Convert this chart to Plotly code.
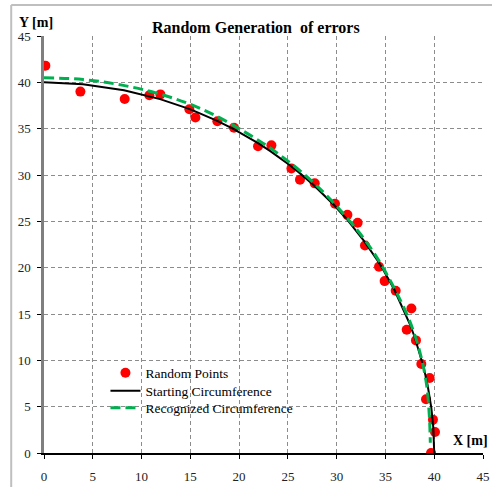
import plotly.graph_objects as go

# Random points
rand_x = [0.14, 3.73, 8.27, 10.80, 11.93, 14.90, 15.52, 17.77, 19.48, 21.94, 23.31,
          25.36, 26.24, 27.75, 29.83, 31.10, 32.15, 32.90, 34.34, 34.92, 36.05,
          37.66, 37.18, 38.13, 38.68, 39.53, 39.16, 39.87, 40.08, 39.67]
rand_y = [41.8, 39.0, 38.2, 38.6, 38.7, 37.1, 36.2, 35.8, 35.1, 33.1, 33.2,
          30.7, 29.5, 29.1, 26.9, 25.7, 24.85, 22.4, 20.1, 18.55, 17.5,
          15.6, 13.3, 12.15, 9.6, 8.1, 5.8, 3.6, 2.27, 0.0]

# Starting circumference (read)
start_x = [0, 4.0, 8.2, 10.8, 11.9, 14.8, 15.5, 17.7, 19.4, 21.9, 23.2, 25.2, 26.1,
           27.6, 29.7, 31.0, 32.0, 32.8, 34.2, 34.8, 35.9, 37.0, 37.5, 38.0, 38.5,
           38.9, 39.3, 39.7, 39.9, 40.0]
start_y = [40.0, 39.80, 39.15, 38.51, 38.19, 37.16, 36.87, 35.87, 34.98, 33.47, 32.58,
           31.06, 30.31, 28.95, 26.79, 25.28, 24.0, 22.89, 20.75, 19.72, 17.64, 15.20,
           13.92, 12.49, 10.85, 9.32, 7.45, 4.89, 2.83, 0.0]

# Recognized circumference (read)
rec_x = [0, 4, 8, 12, 16, 20, 24, 28, 32, 34, 36, 37.5, 38.5, 39.2, 39.5, 39.6]
rec_y = [40.5, 40.3, 39.7, 38.7, 37.2, 35.0, 32.3, 28.8, 24.2, 21.3, 17.6, 14.2, 11.0, 7.5, 4.0, 1.1]

ticks = [0, 5, 10, 15, 20, 25, 30, 35, 40, 45]

SERIF = "Liberation Serif"

fig = go.Figure()
fig.add_trace(go.Scatter(x=rand_x, y=rand_y, mode="markers", name="Random Points",
                         marker=dict(color="#FF0000", size=10), legend="legend"))
fig.add_trace(go.Scatter(x=start_x, y=start_y, mode="lines", name="Starting Circumference",
                         line=dict(color="black", width=2), legend="legend2"))
fig.add_trace(go.Scatter(x=rec_x, y=rec_y, mode="lines", name="Recognized Circumference",
                         line=dict(color="#00B050", width=3, dash="10px,5px", shape="spline"),
                         legend="legend3"))

grid = dict(showgrid=True, gridcolor="#8c8c8c", gridwidth=1, griddash="4px,3px")

fig.update_xaxes(range=[0, 45], tickvals=ticks, ticks="outside", ticklen=4, tickcolor="black",
                 showline=True, linecolor="black", linewidth=1.5, zeroline=False, automargin=False,
                 tickfont=dict(family=SERIF, size=13, color="#222"), ticklabelstandoff=7, **grid)
fig.update_yaxes(range=[0, 45], tickvals=ticks, ticks="outside", ticklen=4, tickcolor="black",
                 showline=True, linecolor="#7f7f7f", linewidth=2.5, zeroline=False, automargin=False,
                 tickfont=dict(family=SERIF, size=13, color="#222"), ticklabelstandoff=4, **grid)

leg = dict(xanchor="left", yanchor="middle", bgcolor="rgba(0,0,0,0)",
           font=dict(family=SERIF, size=13.5, color="black"), itemwidth=30)

fig.update_layout(
    width=492, height=487,
    margin=dict(l=44, r=9, t=36, b=34, autoexpand=False),
    paper_bgcolor="white", plot_bgcolor="white",
    showlegend=True,
    legend=dict(x=0.140, y=0.1918, **leg),
    legend2=dict(x=0.140, y=0.1487, **leg),
    legend3=dict(x=0.140, y=0.1079, **leg),
    shapes=[
        dict(type="rect", xref="paper", yref="paper", x0=0.128, x1=0.571, y0=0.09, y1=0.215,
             layer="between", fillcolor="white", line=dict(width=0)),
        dict(type="line", xref="paper", yref="paper", x0=-0.0747, x1=-0.0747, y0=1.0743, y1=-0.2,
             line=dict(color="#bfbfbf", width=2)),
        dict(type="line", xref="paper", yref="paper", x0=-0.0747, x1=1.2, y0=1.0743, y1=1.0743,
             line=dict(color="#bfbfbf", width=2)),
    ],
    annotations=[
        dict(text="<b>Random Generation  of errors</b>", xref="paper", yref="paper",
             x=0.482, y=1.02, xanchor="center", yanchor="middle", showarrow=False,
             font=dict(family=SERIF, size=16, color="black")),
        dict(text="<b>Y [m]</b>", xref="paper", yref="paper", x=-0.062, y=1.033,
             xanchor="left", yanchor="middle", showarrow=False,
             font=dict(family=SERIF, size=14, color="black")),
        dict(text="<b>X [m]</b>", xref="paper", yref="paper", x=0.927, y=0.031,
             xanchor="left", yanchor="middle", showarrow=False,
             font=dict(family=SERIF, size=14, color="black")),
    ],
)

fig.write_html("out.html", config={"displayModeBar": False},
               post_script="document.body.style.margin='0';document.body.style.overflow='hidden';")
